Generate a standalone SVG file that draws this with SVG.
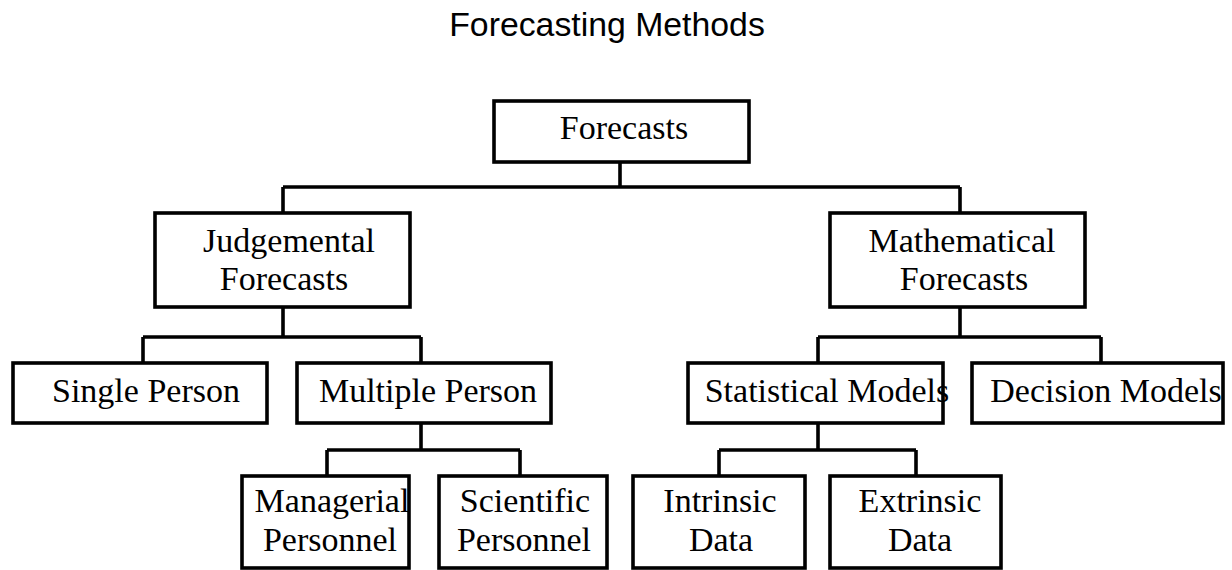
<svg xmlns="http://www.w3.org/2000/svg" width="1232" height="570" viewBox="0 0 1232 570">
<style>
.box{fill:#fff;stroke:#000;stroke-width:3.6}
.lbl{font-family:"Liberation Serif","Times New Roman",serif;font-size:34px;fill:#000;text-anchor:middle}
.title{font-family:"Liberation Sans",Arial,sans-serif;font-size:33.8px;fill:#000;text-anchor:middle}
#connectors path{fill:none;stroke:#000;stroke-width:3.6}
</style>
<rect width="1232" height="570" fill="#fff"/>
<text class="title" x="607" y="36">Forecasting Methods</text>
<g id="connectors">
<path d="M620,162 V187 M283,187 H960 M283,187 V213 M960,187 V213"/>
<path d="M283,307 V337 M143,337 H421 M143,337 V363 M421,337 V363"/>
<path d="M960,307 V337 M818,337 H1101 M818,337 V363 M1101,337 V363"/>
<path d="M421,423 V450 M327,450 H520 M327,450 V476 M520,450 V476"/>
<path d="M818,423 V450 M719,450 H916 M719,450 V476 M916,450 V476"/>
</g>
<g id="forecasts"><rect class="box" x="494" y="101" width="255" height="61"/><text class="lbl" x="624" y="139">Forecasts</text></g>
<g id="judgemental"><rect class="box" x="155" y="213" width="255" height="94"/><text class="lbl" x="289" y="252">Judgemental</text><text class="lbl" x="284" y="290">Forecasts</text></g>
<g id="mathematical"><rect class="box" x="830" y="213" width="255" height="94"/><text class="lbl" x="962" y="252">Mathematical</text><text class="lbl" x="964" y="290">Forecasts</text></g>
<g id="single"><rect class="box" x="13" y="363" width="254" height="60"/><text class="lbl" x="146" y="401.5">Single Person</text></g>
<g id="multiple"><rect class="box" x="297" y="363" width="254" height="60"/><text class="lbl" x="428" y="401.5">Multiple Person</text></g>
<g id="statistical"><rect class="box" x="688" y="363" width="255" height="60"/><text class="lbl" x="827" y="401.5">Statistical Models</text></g>
<g id="decision"><rect class="box" x="972" y="363" width="251" height="60"/><text class="lbl" x="1106" y="401.5">Decision Models</text></g>
<g id="managerial"><rect class="box" x="242" y="476" width="167" height="92"/><text class="lbl" x="332" y="512">Managerial</text><text class="lbl" x="330" y="551">Personnel</text></g>
<g id="scientific"><rect class="box" x="439" y="476" width="168" height="92"/><text class="lbl" x="525" y="512">Scientific</text><text class="lbl" x="524" y="551">Personnel</text></g>
<g id="intrinsic"><rect class="box" x="633" y="476" width="172" height="92"/><text class="lbl" x="720" y="512">Intrinsic</text><text class="lbl" x="721" y="551">Data</text></g>
<g id="extrinsic"><rect class="box" x="830" y="476" width="171" height="92"/><text class="lbl" x="920" y="512">Extrinsic</text><text class="lbl" x="920" y="551">Data</text></g>
</svg>
